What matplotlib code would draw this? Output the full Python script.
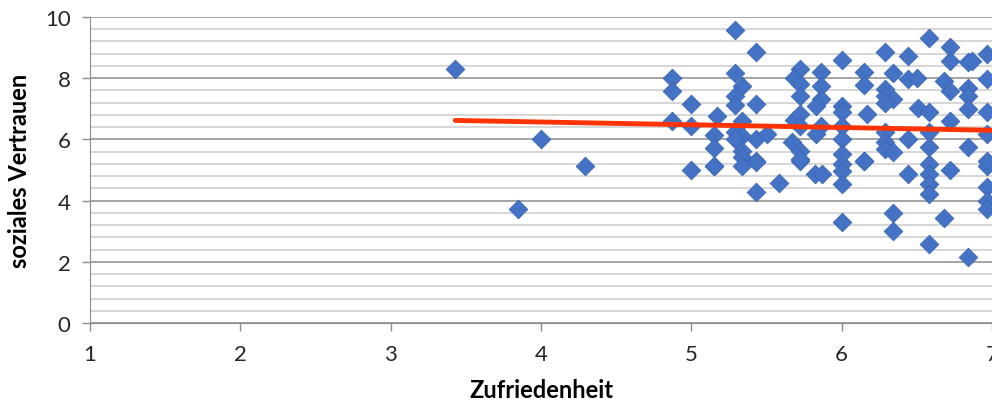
import matplotlib.pyplot as plt
import numpy as np

# Zufriedenheit (x) / soziales Vertrauen (y)
zufriedenheit = [
    3.43, 3.85, 4.00, 4.29,
    4.87, 4.87, 4.87, 5.00, 5.00, 5.00,
    5.17, 5.15, 5.15, 5.15, 5.15,
    5.29, 5.43, 5.29, 5.34, 5.29, 5.29, 5.43, 5.34, 5.29, 5.34, 5.43, 5.50,
    5.29, 5.34, 5.34, 5.43, 5.34, 5.43, 5.43, 5.58,
    5.72, 5.82, 5.87, 6.00, 6.00, 6.00, 6.00, 6.15, 6.34, 6.34, 6.44,
    6.58, 6.58, 6.58, 6.58, 6.58, 6.68, 6.72, 6.84, 6.97, 6.97, 6.97, 6.97,
    5.72, 5.68, 5.72, 5.72, 5.68, 5.72, 5.72, 5.67, 5.72, 5.72,
    5.86, 5.86, 5.86, 5.83, 5.86, 5.83,
    6.00, 6.00, 6.00, 6.00, 6.00, 6.00,
    6.15, 6.15, 6.17, 6.15,
    6.29, 6.34, 6.29, 6.29, 6.34, 6.29, 6.29, 6.29, 6.34, 6.29,
    6.44, 6.44, 6.51, 6.44, 6.50,
    6.58, 6.58, 6.58, 6.58, 6.68, 6.72, 6.72, 6.72, 6.72,
    6.84, 6.84, 6.84, 6.84, 6.87, 6.84,
    6.97, 6.97, 6.97, 6.97, 6.97,
]
vertrauen = [
    8.30, 3.73, 6.01, 5.13,
    8.00, 7.58, 6.60, 7.16, 6.43, 5.00,
    6.76, 6.14, 5.72, 5.13, 5.13,
    9.57, 8.86, 8.17, 7.75, 7.42, 7.12, 7.16, 6.60, 6.24, 6.11, 6.01, 6.18,
    6.01, 5.62, 5.42, 5.30, 5.13, 5.26, 4.28, 4.58,
    5.30, 4.87, 4.87, 5.20, 4.97, 4.54, 3.30, 5.30, 3.59, 3.00, 4.87,
    5.20, 4.87, 4.54, 4.22, 2.58, 3.43, 5.00, 2.16, 5.13, 4.44, 4.00, 3.73,
    8.30, 8.00, 7.80, 7.42, 6.63, 6.83, 6.44, 5.91, 5.62, 5.36,
    8.20, 7.75, 7.32, 7.09, 6.44, 6.18,
    8.60, 7.09, 6.90, 6.44, 6.01, 5.52,
    8.20, 7.78, 6.83, 5.30,
    8.86, 8.17, 7.65, 7.42, 7.32, 6.24, 5.91, 5.69, 5.59, 7.20,
    8.73, 7.97, 7.03, 6.01, 8.00,
    9.31, 6.90, 6.24, 5.75, 7.91, 9.02, 8.56, 7.58, 6.60,
    7.68, 7.42, 7.00, 8.53, 8.56, 5.75,
    8.79, 7.97, 6.90, 6.18, 5.30,
]

# linear trend line endpoints
trend_x = [3.43, 7.2]
trend_y = [6.62, 6.28]

plt.rcParams['font.family'] = ['Lato', 'DejaVu Sans']

fig = plt.figure(
    figsize=(9.92, 4.06),
    dpi=100
)
ax = fig.add_axes([90 / 992, 1 - 324 / 406, 1 - 90 / 992, (324 - 18) / 406])

ax.set_xlim(1, 7)
ax.set_ylim(0, 10)

ax.set_xticks(np.arange(1, 8, 1))
ax.set_yticks(np.arange(0, 11, 2))
ax.set_yticks(np.arange(0, 10.01, 0.4), minor=True)

ax.grid(True, which='major', axis='y', color='#8c8c8c', linewidth=1.1)
ax.grid(True, which='minor', axis='y', color='#cccccc', linewidth=1.1)
ax.set_axisbelow(True)

ax.scatter(
    zufriedenheit,
    vertrauen,
    marker='D',
    s=90,
    color='#4472C4',
    edgecolors='#3b66b5',
    linewidths=0.6,
    zorder=3
)

ax.plot(
    trend_x,
    trend_y,
    color='#FF3300',
    linewidth=3.5,
    solid_capstyle='round',
    zorder=4
)

for side in ['top', 'right']:
    ax.spines[side].set_visible(False)
ax.spines['left'].set_color('#8c8c8c')
ax.spines['bottom'].set_color('#8c8c8c')

ax.tick_params(axis='both', which='major', labelsize=16, colors='#8c8c8c',
               labelcolor='#262626', length=6, width=1)
ax.tick_params(axis='x', which='major', pad=9)
ax.tick_params(axis='y', which='major', pad=8)
ax.tick_params(axis='y', which='minor', length=0)

for lbl in ax.get_xticklabels():
    lbl.set_clip_on(False)

ax.set_xlabel(
    "Zufriedenheit",
    fontsize=17,
    fontweight='bold',
    labelpad=10
)

ax.set_ylabel(
    "soziales Vertrauen",
    fontsize=17,
    fontweight='bold',
    labelpad=10
)

plt.savefig("out.png", dpi=100)
